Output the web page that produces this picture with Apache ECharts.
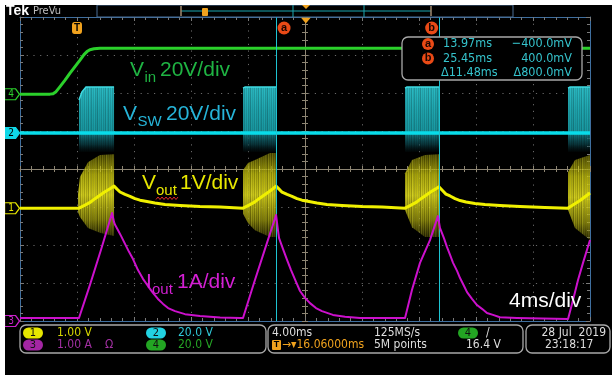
<!DOCTYPE html>
<html>
<head>
<meta charset="utf-8">
<script src="https://cdn.jsdelivr.net/npm/echarts@6.0.0/dist/echarts.min.js"></script>
<style>
html,body{margin:0;padding:0;background:#fff;}
#chart{width:615px;height:375px;}
</style>
</head>
<body>
<div id="chart"></div>
<script>
// ===== Values =====
// Time in ms relative to the trigger (4 ms/div, 10 divisions)
const timeMin = -4;
const timeMax = 36;
const timePerDiv = 4;
const divMin = -4;
const divMax = 4;

// Channels: CH1 Vout, CH2 Vsw, CH3 Iout, CH4 Vin
const channelNames = ['1', '2', '3', '4'];
const channelOffsetDiv = [-1.03, 0.95, -4, 1.97];
const channelPerDiv = [1, 20, 1, 20];
const channelScaleText = ['1.00 V', '20.0 V', '1.00 A', '20.0 V'];

// CH4 Vin (V)
const vinData = [[-4, 0], [-1.89, 0], [-1.68, 0.26], [-1.47, 1.32], [-1.19, 3.95], [-0.84, 7.37],
  [-0.49, 11.05], [-0.14, 14.47], [0.21, 17.9], [0.49, 20.8], [0.70, 22.4], [0.91, 23.4], [1.19, 23.9],
  [1.61, 24.2], [36, 24.2]];

// CH2 Vsw (V): idle trace and switching bursts
const vswData = [[-4, 0], [36, 0]];
const burstStart = [0.14, 11.65, 23.02, 34.46];
const burstEnd = [2.60, 13.97, 25.40, 36.0];
const vswBurstTop = [
  [[0.14, 17.3], [0.35, 21.6], [0.63, 24.2], [2.60, 24.2]],
  [[11.65, 23.6], [11.8, 24.2], [13.97, 24.2]],
  [[23.02, 23.6], [23.15, 24.2], [25.40, 24.2]],
  [[34.46, 23.6], [34.6, 24.2], [36.0, 24.2]]
];
const vswBurstLow = [-10, -10, -10, -10];

// CH1 Vout (V, relative to marker)
const voutData = [[-4, 0], [0.14, 0], [0.56, 0.08], [0.91, 0.15], [1.26, 0.25], [1.61, 0.34], [1.96, 0.43],
  [2.32, 0.51], [2.60, 0.58], [2.81, 0.50], [3.02, 0.425], [3.37, 0.36], [3.72, 0.31], [4.07, 0.25],
  [4.42, 0.21], [4.91, 0.175], [5.47, 0.135], [6.18, 0.096], [7.23, 0.07], [8.63, 0.043], [10.04, 0.03],
  [11.65, 0], [12.07, 0.08], [12.42, 0.15], [12.77, 0.25], [13.12, 0.34], [13.47, 0.43], [13.75, 0.51],
  [13.97, 0.58], [14.18, 0.50], [14.39, 0.42], [14.74, 0.36], [15.09, 0.31], [15.44, 0.25], [15.79, 0.21],
  [16.28, 0.175], [16.84, 0.135], [17.54, 0.096], [18.6, 0.07], [20.0, 0.043], [21.4, 0.03], [23.02, 0],
  [23.44, 0.08], [23.79, 0.15], [24.14, 0.25], [24.49, 0.34], [24.84, 0.43], [25.15, 0.5], [25.40, 0.56],
  [25.68, 0.45], [25.89, 0.37], [26.18, 0.32], [26.53, 0.25], [26.88, 0.2], [27.3, 0.16], [27.93, 0.12],
  [28.63, 0.096], [29.68, 0.07], [31.09, 0.043], [32.84, 0.02], [34.46, 0], [34.88, 0.1], [35.3, 0.2],
  [35.65, 0.3], [36, 0.4]];
const voutBandTop = [
  [[0.07, 0.35], [0.21, 0.82], [0.77, 1.21], [1.61, 1.40], [2.6, 1.42]],
  [[11.65, 1.0], [12.0, 1.19], [12.49, 1.27], [13.54, 1.45], [13.97, 1.45]],
  [[23.02, 0.92], [23.51, 1.27], [24.42, 1.40], [25.40, 1.42]],
  [[34.46, 0.95], [34.95, 1.27], [36, 1.40]]
];
const voutBandBottom = [
  [[0.07, -0.10], [0.21, -0.23], [0.77, -0.52], [1.61, -0.65], [2.6, -0.73]],
  [[11.65, -0.15], [12.0, -0.39], [12.49, -0.58], [13.54, -0.76], [13.97, -0.76]],
  [[23.02, -0.05], [23.51, -0.50], [24.42, -0.76], [25.40, -0.76]],
  [[34.46, -0.05], [34.95, -0.52], [36, -0.84]]
];

// CH3 Iout (A)
const ioutData = [[-4, 0.08], [0.14, 0.08], [0.91, 0.95], [1.68, 1.87], [2.46, 2.84], [2.6, 2.6],
  [2.67, 2.53], [2.88, 2.39], [3.09, 2.24], [3.37, 2.03], [3.65, 1.82], [3.93, 1.63], [4.28, 1.34],
  [4.63, 1.11], [4.98, 0.92], [5.33, 0.74], [5.68, 0.58], [6.04, 0.45], [6.39, 0.34], [6.88, 0.26],
  [7.58, 0.18], [8.63, 0.13], [10.04, 0.09], [11.44, 0.08], [11.65, 0.08], [12.42, 1.0], [13.19, 1.89],
  [13.97, 2.79], [14.1, 2.4], [14.18, 2.18], [14.46, 1.89], [14.74, 1.61], [15.02, 1.34], [15.37, 1.03],
  [15.65, 0.79], [16.0, 0.61], [16.35, 0.47], [16.77, 0.34], [17.19, 0.26], [17.96, 0.16], [18.81, 0.11],
  [19.86, 0.08], [23.02, 0.08], [23.51, 0.82], [24.07, 1.53], [24.77, 2.13], [25.33, 2.76],
  [25.47, 2.45], [25.75, 2.18], [25.96, 1.95], [26.18, 1.74], [26.39, 1.53], [26.67, 1.32], [26.88, 1.13],
  [27.16, 0.92], [27.37, 0.76], [27.72, 0.58], [28.07, 0.42], [28.42, 0.32], [28.77, 0.21], [29.19, 0.16],
  [29.68, 0.1], [30.88, 0.08], [34.46, 0.05], [34.81, 0.55], [35.16, 1.08], [35.51, 1.53], [36, 2.13]];

// Cursors and readouts
const cursorLetters = ['a', 'b'];
const cursorTimes = [13.97, 25.45];
const cursorMilliVolts = [-400.0, 400.0];
const triggerTime = 0;
const horizontalPosition = 16.06;
const timebaseText = '4.00ms';
const sampleRateText = '125MS/s';
const recordLengthText = '5M points';
const triggerLevelText = '16.4 V';
const dateText = '28 Jul  2019';
const clockText = '23:18:17';

// ===== Helpers =====
function toDiv(ch, v) { return channelOffsetDiv[ch] + v / channelPerDiv[ch]; }
function seriesData(ch, arr) { return arr.map(p => [p[0], toDiv(ch, p[1])]); }

const NARROW = "'Liberation Sans Narrow','DejaVu Sans Condensed','Liberation Sans',sans-serif";
const SANS = "'Liberation Sans',Arial,sans-serif";

function streakPattern(rgb, alphas) {
  const c = document.createElement('canvas');
  c.width = alphas.length; c.height = 4;
  const g = c.getContext('2d');
  alphas.forEach((a, i) => { g.fillStyle = 'rgba(' + rgb + ',' + a + ')'; g.fillRect(i, 0, 1, 4); });
  return { image: c, repeat: 'repeat' };
}
const STREAKS = [0.0, 0.35, 0.1, 0.5, 0.0, 0.2, 0.45, 0.05, 0.3, 0.0, 0.4, 0.15, 0.55, 0.05, 0.25, 0.1, 0.38];
const darkStreaks = streakPattern('0,0,0', STREAKS.map(a => a * 0.45));
const lightYellowStreaks = streakPattern('255,255,90', STREAKS.slice().reverse().map(a => a * 0.35));

function txt(x, y, text, color, font, align) {
  return { type: 'text', x: x, y: y, z: 50, silent: true,
    style: { text: text, fill: color, font: font, align: align || 'left', textAlign: align || 'left',
      verticalAlign: 'middle', textVerticalAlign: 'middle' } };
}
function pill(cx, cy, color, label) {
  return [
    { type: 'rect', z: 50, shape: { x: cx - 10, y: cy - 5.5, width: 20, height: 11, r: 5.5 }, style: { fill: color } },
    txt(cx, cy + 0.5, label, '#111', '11px ' + NARROW, 'center')
  ];
}
function roundBox(x, y, w, h) {
  return { type: 'rect', z: 45, shape: { x: x, y: y, width: w, height: h, r: 6 },
    style: { fill: '#000', stroke: '#a8a8a8', lineWidth: 1.3 } };
}

// ===== Axes =====
const xBase = { type: 'value', min: timeMin, max: timeMax, interval: timePerDiv,
  axisLabel: { show: false }, splitLine: { show: false } };
const yBase = { type: 'value', min: divMin, max: divMax, interval: 1,
  axisLabel: { show: false }, splitLine: { show: false } };
const borderLine = { show: true, onZero: false, lineStyle: { color: '#3f6f9f', width: 1 } };
const centerLine = { show: true, onZero: false, lineStyle: { color: '#8e8674', width: 1 } };
const tickIn = { show: true, inside: true, length: 4, lineStyle: { color: '#7a7a7a' } };
const tickOut = { show: true, inside: false, length: 3, lineStyle: { color: '#8e8674' } };
const minorIn = { show: true, splitNumber: 5, length: 3, lineStyle: { color: '#7a7a7a' } };
const minorCenter = { show: true, splitNumber: 5, length: 3, lineStyle: { color: '#8e8674' } };
const dotted = { show: true, lineStyle: { color: '#686868', width: 1, type: [1.2, 5.5] } };

const xAxes = [
  Object.assign({}, xBase, { position: 'bottom', axisLine: borderLine, axisTick: tickIn, minorTick: minorIn, splitLine: dotted }),
  Object.assign({}, xBase, { position: 'top', axisLine: borderLine, axisTick: tickIn, minorTick: minorIn }),
  Object.assign({}, xBase, { position: 'bottom', offset: -152, axisLine: centerLine,
    axisTick: Object.assign({}, tickIn, { length: 3, lineStyle: { color: '#8e8674' } }), minorTick: minorCenter }),
  Object.assign({}, xBase, { position: 'bottom', offset: -152, axisLine: { show: false }, axisTick: tickOut, minorTick: minorCenter })
];
const yAxes = [
  Object.assign({}, yBase, { position: 'left', axisLine: borderLine, axisTick: tickIn, minorTick: minorIn, splitLine: dotted }),
  Object.assign({}, yBase, { position: 'right', axisLine: borderLine, axisTick: tickIn, minorTick: minorIn }),
  Object.assign({}, yBase, { position: 'left', offset: -285, axisLine: centerLine,
    axisTick: Object.assign({}, tickIn, { length: 3, lineStyle: { color: '#8e8674' } }), minorTick: minorCenter }),
  Object.assign({}, yBase, { position: 'left', offset: -285, axisLine: { show: false }, axisTick: tickOut, minorTick: minorCenter })
];

// ===== Markers (through the axes' coordinates) =====
const arrowPath = 'path://M0,0 L11,0 L15,5.5 L11,11 L0,11 Z';
const chColors = ['#e6e600', '#10d8e8', '#cc22cc', '#2ccf2c'];
const channelMarkers = channelNames.map((n, i) => ({
  coord: [timeMin, channelOffsetDiv[i]], symbol: arrowPath, symbolSize: [15, 11], symbolOffset: [-8, 0],
  itemStyle: { color: i === 1 ? chColors[1] : '#000', borderColor: chColors[i], borderWidth: 1.2 },
  label: { show: true, formatter: n, color: i === 1 ? '#000' : chColors[i], fontSize: 10, fontFamily: NARROW, offset: [-1, 0.5] }
}));
const cursorBadges = cursorTimes.map((t, i) => ({
  coord: [t, divMax], symbol: 'circle', symbolSize: 13, symbolOffset: [i === 0 ? 8 : -8, 11],
  itemStyle: { color: '#ea4a16' },
  label: { show: true, formatter: cursorLetters[i], color: '#1a0500', fontSize: 11, fontWeight: 'bold', fontFamily: SANS, offset: [0, -0.5] }
}));
const triggerMarkers = [
  { coord: [triggerTime, divMax], symbol: 'roundRect', symbolSize: [10, 12], symbolOffset: [0, 11],
    itemStyle: { color: '#f0a21e' },
    label: { show: true, formatter: 'T', color: '#000', fontSize: 10, fontWeight: 'bold', fontFamily: SANS } },
  { coord: [horizontalPosition, divMax], symbol: 'path://M0,0 L10,0 L5,6 Z', symbolSize: [10, 6], symbolOffset: [0, 3.5],
    itemStyle: { color: '#f0a21e' }, label: { show: false } }
];

// ===== Burst band renderers =====
function vswBandRender(params, api) {
  const i = api.value(2);
  const top = vswBurstTop[i].map(p => api.coord([p[0], toDiv(1, p[1])]));
  const p0 = api.coord([burstStart[i], toDiv(1, 0)]);
  const p1 = api.coord([burstEnd[i], toDiv(1, 0)]);
  const l0 = api.coord([burstStart[i], toDiv(1, vswBurstLow[i])]);
  const l1 = api.coord([burstEnd[i], toDiv(1, vswBurstLow[i])]);
  const upper = top.concat([p1, p0]);
  const lower = [p0, p1, l1, l0];
  return { type: 'group', children: [
    { type: 'polygon', shape: { points: upper }, style: { fill: new echarts.graphic.LinearGradient(0, 0, 0, 1, [
      { offset: 0, color: '#2bbcc5' }, { offset: 0.5, color: '#1fa7b0' }, { offset: 1, color: '#1897a0' }]) } },
    { type: 'polygon', shape: { points: upper }, style: { fill: darkStreaks } },
    { type: 'polyline', shape: { points: top }, style: { stroke: '#3fdce4', lineWidth: 1.5, fill: 'none' } },
    { type: 'polygon', shape: { points: lower }, style: { fill: new echarts.graphic.LinearGradient(0, 0, 0, 1, [
      { offset: 0, color: 'rgba(24,135,145,0.95)' }, { offset: 0.6, color: 'rgba(14,88,98,0.6)' }, { offset: 1, color: 'rgba(8,50,55,0.1)' }]) } },
    { type: 'polygon', shape: { points: lower }, style: { fill: darkStreaks } }
  ] };
}
function voutBandRender(params, api) {
  const i = api.value(2);
  const top = voutBandTop[i].map(p => api.coord([p[0], toDiv(0, p[1])]));
  const bot = voutBandBottom[i].map(p => api.coord([p[0], toDiv(0, p[1])])).reverse();
  const poly = top.concat(bot);
  return { type: 'group', children: [
    { type: 'polygon', shape: { points: poly }, style: { fill: new echarts.graphic.LinearGradient(0, 0, 0, 1, [
      { offset: 0, color: 'rgba(160,155,0,0.45)' }, { offset: 0.25, color: 'rgba(205,200,10,0.8)' },
      { offset: 0.5, color: 'rgba(225,220,25,0.9)' }, { offset: 0.8, color: 'rgba(185,180,10,0.65)' },
      { offset: 1, color: 'rgba(125,120,0,0.3)' }]) } },
    { type: 'polygon', shape: { points: poly }, style: { fill: darkStreaks } },
    { type: 'polygon', shape: { points: poly }, style: { fill: lightYellowStreaks } }
  ] };
}
const burstItems = burstStart.map((s, i) => [s, burstEnd[i], i]);

// ===== Graphic decorations (screen furniture of the scope) =====
const squiggle = [];
for (let k = 0; k <= 11; k++) squiggle.push([156 + k * 2, k % 2 ? 197 : 199.5]);

const graphics = [
  // top bar
  txt(6, 11, 'Tek', '#fff', 'bold 14px ' + SANS),
  txt(33, 11, 'PreVu', '#bdbdbd', '11px ' + NARROW),
  { type: 'rect', z: 40, shape: { x: 97, y: 5, width: 416, height: 12 }, style: { fill: '#000', stroke: '#4b6f96', lineWidth: 1 } },
  { type: 'line', z: 41, shape: { x1: 181, y1: 11, x2: 431, y2: 11 }, style: { stroke: '#1aa6b0', lineWidth: 1 } },
  { type: 'line', z: 41, shape: { x1: 181, y1: 6, x2: 181, y2: 16 }, style: { stroke: '#a08a70', lineWidth: 1.5 } },
  { type: 'line', z: 41, shape: { x1: 431, y1: 6, x2: 431, y2: 16 }, style: { stroke: '#a08a70', lineWidth: 1.5 } },
  { type: 'line', z: 41, shape: { x1: 293, y1: 5, x2: 293, y2: 17 }, style: { stroke: '#1aa6b0', lineWidth: 1 } },
  { type: 'line', z: 41, shape: { x1: 364, y1: 5, x2: 364, y2: 17 }, style: { stroke: '#1aa6b0', lineWidth: 1 } },
  { type: 'rect', z: 42, shape: { x: 202, y: 8, width: 6, height: 8, r: 1 }, style: { fill: '#f0a21e' } },
  { type: 'polygon', z: 42, shape: { points: [[302, 5], [310, 5], [306, 9]] }, style: { fill: '#f0a21e' } },

  // annotations
  txt(130, 70.7, 'V', '#1fb443', '21px ' + SANS),
  txt(144.5, 77.8, 'in', '#1fb443', '15px ' + SANS),
  txt(160, 70.7, '20V/div', '#1fb443', '21px ' + SANS),
  txt(123, 114.7, 'V', '#26b4d8', '21px ' + SANS),
  txt(137.5, 121.8, 'SW', '#26b4d8', '15px ' + SANS),
  txt(166, 114.7, '20V/div', '#26b4d8', '21px ' + SANS),
  txt(142, 183.7, 'V', '#e8e800', '21px ' + SANS),
  txt(156, 190.8, 'out', '#e8e800', '15px ' + SANS),
  txt(180, 183.7, '1V/div', '#e8e800', '21px ' + SANS),
  { type: 'polyline', z: 51, shape: { points: squiggle }, style: { stroke: '#e02828', lineWidth: 1, fill: 'none' } },
  txt(146, 282.7, 'I', '#d41fd4', '21px ' + SANS),
  txt(152, 289.8, 'out', '#d41fd4', '15px ' + SANS),
  txt(177, 282.7, '1A/div', '#d41fd4', '21px ' + SANS),
  txt(509, 301.7, '4ms/div', '#ffffff', '21px ' + SANS),

  // cursor readout box
  roundBox(402, 37, 180, 43),
  { type: 'circle', z: 50, shape: { cx: 428, cy: 44, r: 6 }, style: { fill: '#ea4a16' } },
  txt(428, 43.5, cursorLetters[0], '#1a0500', 'bold 11px ' + SANS, 'center'),
  { type: 'circle', z: 50, shape: { cx: 428, cy: 58.5, r: 6 }, style: { fill: '#ea4a16' } },
  txt(428, 58, cursorLetters[1], '#1a0500', 'bold 11px ' + SANS, 'center'),
  txt(443, 44, cursorTimes[0].toFixed(2) + 'ms', '#35c3cc', '12.5px ' + NARROW),
  txt(572, 44, '\u2212' + Math.abs(cursorMilliVolts[0]).toFixed(1) + 'mV', '#35c3cc', '12.5px ' + NARROW, 'right'),
  txt(443, 58.5, cursorTimes[1].toFixed(2) + 'ms', '#35c3cc', '12.5px ' + NARROW),
  txt(572, 58.5, cursorMilliVolts[1].toFixed(1) + 'mV', '#35c3cc', '12.5px ' + NARROW, 'right'),
  txt(441, 72.5, '\u0394' + (cursorTimes[1] - cursorTimes[0]).toFixed(2) + 'ms', '#35c3cc', '12.5px ' + NARROW),
  txt(572, 72.5, '\u0394' + (cursorMilliVolts[1] - cursorMilliVolts[0]).toFixed(1) + 'mV', '#35c3cc', '12.5px ' + NARROW, 'right'),

  // status bar
  roundBox(20, 325, 246, 28),
  roundBox(268, 325, 255, 28),
  roundBox(526, 325, 84, 28),
  ...pill(33, 333, '#e6e600', channelNames[0]),
  txt(57, 333, channelScaleText[0], '#d6d600', '12px ' + NARROW),
  ...pill(156, 333, '#22d2e2', channelNames[1]),
  txt(178, 333, channelScaleText[1], '#30c8d8', '12px ' + NARROW),
  ...pill(33, 345, '#a326a3', channelNames[2]),
  txt(57, 345, channelScaleText[2], '#a330a3', '12px ' + NARROW),
  txt(105, 345, '\u03A9', '#a330a3', '12px ' + NARROW),
  ...pill(156, 345, '#23a523', channelNames[3]),
  txt(178, 345, channelScaleText[3], '#25a525', '12px ' + NARROW),
  txt(272, 333, timebaseText, '#dedede', '12px ' + NARROW),
  txt(374, 333, sampleRateText, '#dedede', '12px ' + NARROW),
  ...pill(468, 333, '#23a523', channelNames[3]),
  txt(486, 333, '/', '#dedede', '12px ' + NARROW),
  { type: 'rect', z: 50, shape: { x: 272, y: 340, width: 9, height: 10, r: 1 }, style: { fill: '#f0a21e' } },
  txt(276.5, 345, 'T', '#000', 'bold 9px ' + SANS, 'center'),
  txt(282, 345, '\u2192\u25BE' + horizontalPosition.toFixed(5) + 'ms', '#f0a21e', '12px ' + NARROW),
  txt(374, 345, recordLengthText, '#dedede', '12px ' + NARROW),
  txt(466, 345, triggerLevelText, '#dedede', '12px ' + NARROW),
  txt(606, 333, dateText, '#dedede', '12px ' + NARROW, 'right'),
  txt(545, 345, clockText, '#dedede', '12px ' + NARROW),

  // white frame around the screenshot
  { type: 'rect', z: 100, shape: { x: 0, y: 0, width: 615, height: 5 }, style: { fill: '#fff' } },
  { type: 'rect', z: 100, shape: { x: 0, y: 0, width: 5, height: 375 }, style: { fill: '#fff' } },
  { type: 'rect', z: 100, shape: { x: 612, y: 0, width: 3, height: 375 }, style: { fill: '#fff' } }
];

const chart = echarts.init(document.getElementById('chart'), null, { renderer: 'canvas', width: 615, height: 375 });
chart.setOption({
  animation: false,
  backgroundColor: '#000',
  grid: { left: 20, top: 17, width: 570, height: 304, containLabel: false, outerBoundsMode: 'none' },
  xAxis: xAxes,
  yAxis: yAxes,
  graphic: { elements: graphics },
  series: [
    { type: 'custom', name: 'VswBursts', renderItem: vswBandRender, data: burstItems, z: 2, silent: true, clip: true },
    { type: 'custom', name: 'VoutBursts', renderItem: voutBandRender, data: burstItems, z: 2, silent: true, clip: true },
    { type: 'line', name: 'Vsw', data: seriesData(1, vswData), showSymbol: false, symbol: 'none', z: 3,
      lineStyle: { color: '#08dcea', width: 3.5 } },
    { type: 'line', name: 'Vin', data: seriesData(3, vinData), showSymbol: false, symbol: 'none', z: 3,
      lineStyle: { color: '#2bd02b', width: 3, join: 'round' },
      markPoint: { silent: true, data: channelMarkers.concat(triggerMarkers) } },
    { type: 'line', name: 'Vout', data: seriesData(0, voutData), showSymbol: false, symbol: 'none', z: 4,
      lineStyle: { color: '#f0f000', width: 3, join: 'round' } },
    { type: 'line', name: 'Iout', data: seriesData(2, ioutData), showSymbol: false, symbol: 'none', z: 5,
      lineStyle: { color: '#cc10cc', width: 2, join: 'round' },
      markLine: { silent: true, symbol: ['none', 'none'], label: { show: false },
        lineStyle: { color: '#1ec4d2', width: 1, type: 'solid' },
        data: cursorTimes.map(t => ({ xAxis: t })) },
      markPoint: { silent: true, data: cursorBadges } }
  ]
});
</script>
</body>
</html>
